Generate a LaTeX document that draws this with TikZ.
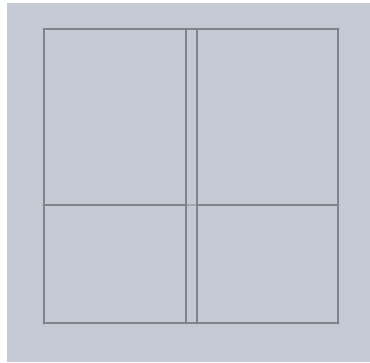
\documentclass[tikz,border=0pt]{standalone}
\definecolor{bg}{HTML}{C6CAD4}
\definecolor{ln}{HTML}{80838A}
\definecolor{lnf}{HTML}{A6A9B0}
\begin{document}
\begin{tikzpicture}[x=1pt,y=-1pt,
  edge/.style={draw=ln,line width=1.6pt},
  dot/.style={circle,fill=ln,inner sep=0pt,minimum size=3pt}]
\useasboundingbox (0,0) rectangle (370,362);
\fill[white] (0,0) rectangle (370,362);
\fill[bg] (7,3) rectangle (370,362);
% coordinates
\coordinate (A1) at (44,29);  \coordinate (A2) at (186,29);
\coordinate (B1) at (197,29); \coordinate (B2) at (338,29);
\coordinate (C1) at (44,205); \coordinate (C2) at (186,205);
\coordinate (D1) at (197,205);\coordinate (D2) at (338,205);
\coordinate (E1) at (44,323); \coordinate (E2) at (186,323);
\coordinate (F1) at (197,323);\coordinate (F2) at (338,323);
% outer lines
\draw[edge] (A1) -- (B2);
\draw[edge] (E1) -- (F2);
\draw[edge] (A1) -- (E1);
\draw[edge] (A2) -- (E2);
\draw[edge] (B1) -- (F1);
\draw[edge] (B2) -- (F2);
\draw[edge] (C1) -- (C2);
\draw[edge] (D1) -- (D2);
\draw[draw=lnf,line width=1.2pt] (C2) -- (D1);
\foreach \p in {A1,A2,B1,B2,C1,C2,D1,D2,E1,E2,F1,F2}
  \node[dot] at (\p) {};
\end{tikzpicture}
\end{document}
